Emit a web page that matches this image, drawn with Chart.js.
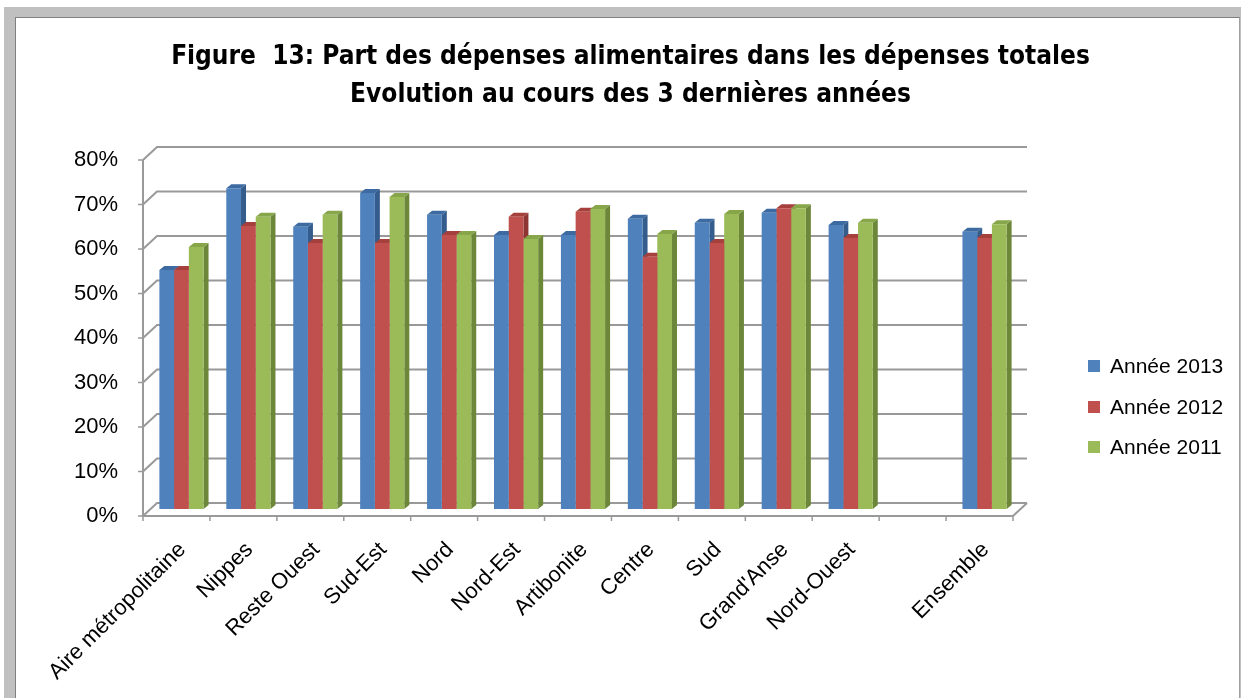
<!DOCTYPE html>
<html>
<head>
<meta charset="utf-8">
<script src="https://cdn.jsdelivr.net/npm/chart.js@4.4.1/dist/chart.umd.min.js"></script>
<style>
  html, body { margin: 0; padding: 0; background: #fff; }
  #wrap { position: relative; width: 1241px; height: 698px; overflow: hidden; }
  .frame { position: absolute; left: 4px; top: 7px; right: 0; bottom: 0; background: #c0c0c0; }
  .inner { position: absolute; left: 15px; top: 17px; right: 1px; bottom: 0; background: #fff;
           border-left: 1px solid #7f7f7f; border-top: 1px solid #7f7f7f; border-right: 1px solid #a0a0a0; }
  canvas { position: absolute; left: 0; top: 0; }
  #legend { position: absolute; left: 1088px; top: 346px; font: 21px 'Liberation Sans', Arial, sans-serif; color: #000; }
  #legend .item { height: 40.5px; display: flex; align-items: center; }
  #legend .sw { width: 12px; height: 12px; margin-right: 10px; }
</style>
</head>
<body>
<div id="wrap">
  <div class="frame"></div>
  <div class="inner"></div>
  <canvas id="c" width="1241" height="698"></canvas>
  <div id="legend"></div>
</div>
<script>
// categories (the blank one is the gap before "Ensemble")
const categories = ['Aire métropolitaine', 'Nippes', 'Reste Ouest', 'Sud-Est', 'Nord', 'Nord-Est',
    'Artibonite', 'Centre', 'Sud', "Grand'Anse", 'Nord-Ouest', '', 'Ensemble'];

// share of food spending, in %
const annee2013 = [53.7, 72.1, 63.4, 71.0, 66.1, 61.6, 61.6, 65.2, 64.3, 66.6, 63.8, null, 62.3];
const annee2012 = [53.7, 63.6, 59.8, 59.8, 61.6, 65.7, 66.8, 56.7, 59.8, 67.6, 60.9, null, 60.9];
const annee2011 = [58.9, 65.7, 66.1, 70.1, 61.6, 60.7, 67.4, 61.8, 66.3, 67.6, 64.3, null, 64.0];

const yTicks = [0, 10, 20, 30, 40, 50, 60, 70, 80];
const seriesNames = ['Année 2013', 'Année 2012', 'Année 2011'];

// front / side / top colours per series
const colors = [
    { front: '#4f81bd', side: '#345c8c', top: '#3d6aa0' },
    { front: '#c0504d', side: '#8c3532', top: '#a5403d' },
    { front: '#9bbb59', side: '#6c873a', top: '#87a64a' }
];

// fake depth of the excel 3d look
const FX = -5, FY = 7;     // front plane offset
const BX = 9, BY = 6;      // back wall offset
const D = 5, DY = 4;       // bar depth

const pseudo3d = {
    id: 'pseudo3d',
    beforeDatasetsDraw(chart) {
        const { ctx, chartArea: a, scales: { y } } = chart;
        ctx.save();
        ctx.strokeStyle = '#999';
        ctx.lineWidth = 2;

        // back wall grid + left wall diagonals
        yTicks.forEach(v => {
            const py = y.getPixelForValue(v);
            ctx.beginPath();
            ctx.moveTo(a.left + FX, py + FY);
            ctx.lineTo(a.left + BX, py - BY);
            ctx.lineTo(a.right + BX, py - BY);
            ctx.stroke();
        });
        // floor right edge
        ctx.beginPath();
        ctx.moveTo(a.right + FX, a.bottom + FY);
        ctx.lineTo(a.right + BX, a.bottom - BY);
        ctx.stroke();

        // side and top faces, series by series
        chart.data.datasets.forEach((ds, i) => {
            const meta = chart.getDatasetMeta(i);
            meta.data.forEach((el, j) => {
                if (ds.data[j] == null) return;
                const l = el.x - el.width / 2, r = el.x + el.width / 2;
                ctx.fillStyle = colors[i].side;
                ctx.beginPath();
                ctx.moveTo(r, el.y);
                ctx.lineTo(r + D, el.y - DY);
                ctx.lineTo(r + D, el.base - DY);
                ctx.lineTo(r, el.base);
                ctx.closePath();
                ctx.fill();
                ctx.fillStyle = colors[i].top;
                ctx.beginPath();
                ctx.moveTo(l, el.y);
                ctx.lineTo(l + D, el.y - DY);
                ctx.lineTo(r + D, el.y - DY);
                ctx.lineTo(r, el.y);
                ctx.closePath();
                ctx.fill();
            });
        });
        ctx.restore();
    },
    afterDatasetsDraw(chart) {
        const { ctx, chartArea: a, scales: { y } } = chart;
        ctx.save();
        ctx.strokeStyle = '#999';
        ctx.lineWidth = 2;
        const fx = a.left + FX;
        ctx.beginPath();
        ctx.moveTo(fx, y.getPixelForValue(80) + FY);
        ctx.lineTo(fx, a.bottom + FY);
        ctx.lineTo(a.right + FX, a.bottom + FY);
        ctx.stroke();
        // tick marks
        ctx.lineWidth = 1.5;
        yTicks.forEach(v => {
            const py = y.getPixelForValue(v) + FY;
            ctx.beginPath();
            ctx.moveTo(fx - 5, py);
            ctx.lineTo(fx, py);
            ctx.stroke();
        });
        const n = categories.length;
        for (let i = 0; i <= n; i++) {
            const px = a.left + FX + i * a.width / n;
            ctx.beginPath();
            ctx.moveTo(px, a.bottom + FY);
            ctx.lineTo(px, a.bottom + FY + 5);
            ctx.stroke();
        }
        ctx.restore();
    }
};

const datasets = [annee2013, annee2012, annee2011].map((d, i) => ({
    label: seriesNames[i],
    data: d,
    backgroundColor: colors[i].front,
    borderWidth: 0,
    categoryPercentage: 0.66,
    barPercentage: 1.0
}));

new Chart(document.getElementById('c'), {
    type: 'bar',
    data: { labels: categories, datasets },
    plugins: [pseudo3d],
    options: {
        responsive: false,
        animation: false,
        layout: { padding: { left: 20, right: 0, top: 0, bottom: 0 } },
        plugins: {
            legend: { display: false },
            tooltip: { enabled: false },
            title: {
                display: true,
                text: ['Figure  13: Part des dépenses alimentaires dans les dépenses totales',
                       'Evolution au cours des 3 dernières années'],
                color: '#000',
                font: { family: "'Liberation Sans Narrow', 'DejaVu Sans Condensed', Arial, sans-serif", size: 26, weight: 'bold', lineHeight: '38px' },
                padding: { top: 38, bottom: 39 }
            }
        },
        scales: {
            x: {
                grid: { display: false, drawTicks: false },
                border: { display: false },
                ticks: {
                    autoSkip: false, maxRotation: 45, minRotation: 45, padding: 28,
                    labelOffset: 1,
                    color: '#000',
                    font: { family: "'Liberation Sans', Arial, sans-serif", size: 22 }
                },
                afterFit(s) { s.height = 189; }
            },
            y: {
                min: 0, max: 80,
                grid: { display: false, drawTicks: false },
                border: { display: false },
                ticks: {
                    stepSize: 10, padding: 30, labelOffset: FY,
                    color: '#000',
                    font: { family: "'Liberation Sans', Arial, sans-serif", size: 22 },
                    callback: v => v + '%'
                },
                afterFit(s) { s.width = 128; }
            },
            yR: {
                position: 'right',
                grid: { display: false, drawTicks: false },
                border: { display: false },
                ticks: { display: false },
                afterFit(s) { s.width = 223; }
            }
        }
    }
});

// legend
const lg = document.getElementById('legend');
seriesNames.forEach((name, i) => {
    const it = document.createElement('div');
    it.className = 'item';
    it.innerHTML = '<span class="sw" style="background:' + colors[i].front + '"></span>' + name;
    lg.appendChild(it);
});
</script>
</body>
</html>
